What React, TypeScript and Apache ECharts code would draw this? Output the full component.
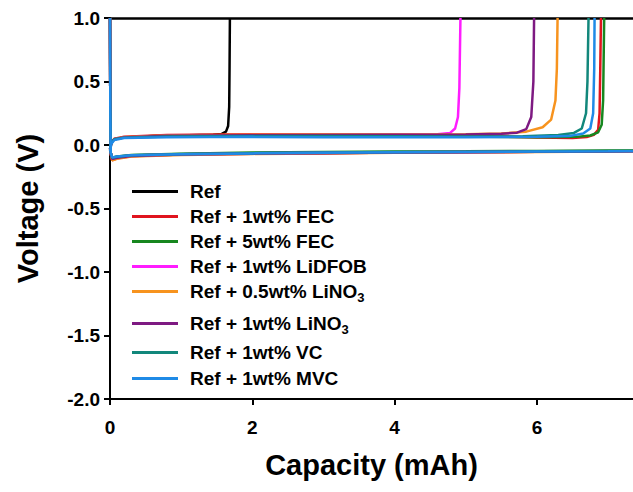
import React, { useEffect, useRef } from "react";
import * as echarts from "echarts";

const seriesNames = [
  "Ref",
  "Ref + 1wt% FEC",
  "Ref + 5wt% FEC",
  "Ref + 1wt% LiDFOB",
  "Ref + 0.5wt% LiNO3",
  "Ref + 1wt% LiNO3",
  "Ref + 1wt% VC",
  "Ref + 1wt% MVC",
];
const seriesColors = ["#000000", "#e0141e", "#17871f", "#ff1cff", "#f7931e", "#7e1a82", "#12877b", "#1f8ae6"];

const yTicks = [-2.0, -1.5, -1.0, -0.5, 0.0, 0.5, 1.0];
const xTicks = [0, 2, 4, 6];

// charge (stripping) curves: [capacity mAh, voltage V]
const chargeRef = [[0, -0.03], [0.02, 0.02], [0.06, 0.045], [0.2, 0.06], [0.6, 0.07], [1.1, 0.076], [1.45, 0.08], [1.57, 0.087], [1.63, 0.105], [1.66, 0.15], [1.675, 0.3], [1.68, 0.6], [1.685, 1.0]];
const chargeFEC1 = [[0, -0.04], [0.02, 0.02], [0.06, 0.05], [0.2, 0.065], [0.8, 0.078], [2, 0.085], [3, 0.085], [4, 0.08], [5, 0.072], [6, 0.06], [6.5, 0.055], [6.7, 0.062], [6.8, 0.08], [6.86, 0.12], [6.88, 0.25], [6.89, 0.6], [6.9, 1.0]];
const chargeFEC5 = [[0, -0.03], [0.02, 0.02], [0.06, 0.045], [0.2, 0.06], [0.8, 0.07], [2, 0.075], [3, 0.075], [4, 0.072], [5, 0.066], [6, 0.062], [6.55, 0.064], [6.75, 0.075], [6.86, 0.1], [6.91, 0.16], [6.93, 0.35], [6.945, 1.0]];
const chargeLiDFOB = [[0, -0.03], [0.02, 0.02], [0.06, 0.045], [0.2, 0.06], [0.8, 0.072], [2, 0.078], [3, 0.08], [4, 0.082], [4.6, 0.085], [4.78, 0.095], [4.85, 0.13], [4.89, 0.22], [4.91, 0.45], [4.925, 1.0]];
const chargeLiNO305 = [[0, -0.04], [0.02, 0.02], [0.06, 0.045], [0.2, 0.062], [0.8, 0.074], [2, 0.08], [3, 0.082], [4, 0.082], [5, 0.085], [5.5, 0.09], [5.85, 0.105], [6.08, 0.14], [6.2, 0.2], [6.26, 0.35], [6.28, 0.6], [6.29, 1.0]];
const chargeLiNO31 = [[0, -0.03], [0.02, 0.02], [0.06, 0.045], [0.2, 0.06], [0.8, 0.072], [2, 0.076], [3, 0.078], [4, 0.08], [5, 0.082], [5.5, 0.088], [5.72, 0.097], [5.85, 0.125], [5.92, 0.22], [5.95, 0.5], [5.96, 1.0]];
const chargeVC = [[0, -0.03], [0.02, 0.02], [0.06, 0.045], [0.2, 0.058], [0.8, 0.066], [2, 0.07], [3, 0.07], [4, 0.068], [5, 0.066], [5.8, 0.068], [6.3, 0.078], [6.52, 0.095], [6.63, 0.13], [6.69, 0.25], [6.71, 0.5], [6.725, 1.0]];
const chargeMVC = [[0, -0.05], [0.02, 0.01], [0.06, 0.04], [0.2, 0.055], [0.8, 0.062], [2, 0.064], [3, 0.062], [4, 0.062], [5, 0.062], [6, 0.064], [6.45, 0.07], [6.65, 0.09], [6.75, 0.13], [6.79, 0.25], [6.805, 0.6], [6.81, 1.0]];

// discharge (plating) curves
const dischargeRef = [[0, 1.0], [0.004, 0.3], [0.01, -0.06], [0.03, -0.1], [0.1, -0.095], [0.3, -0.082], [1, -0.072], [2, -0.066], [3, -0.062], [4, -0.058], [5, -0.055], [6, -0.052], [7, -0.05], [7.6, -0.048]];
const dischargeFEC1 = [[0, 1.0], [0.004, 0.3], [0.01, -0.07], [0.03, -0.12], [0.1, -0.105], [0.3, -0.088], [1, -0.075], [2, -0.068], [3, -0.064], [4, -0.06], [5, -0.056], [6, -0.053], [7, -0.05], [7.6, -0.048]];
const dischargeFEC5 = [[0, 1.0], [0.004, 0.3], [0.01, -0.06], [0.03, -0.1], [0.1, -0.09], [0.3, -0.078], [1, -0.068], [2, -0.06], [3, -0.055], [4, -0.052], [5, -0.05], [6, -0.047], [7, -0.044], [7.6, -0.042]];
const dischargeLiDFOB = [[0, 1.0], [0.004, 0.3], [0.01, -0.06], [0.03, -0.1], [0.1, -0.095], [0.3, -0.082], [1, -0.072], [2, -0.066], [3, -0.062], [4, -0.058], [5, -0.055], [6, -0.052], [7, -0.05], [7.6, -0.048]];
const dischargeLiNO305 = [[0, 1.0], [0.004, 0.3], [0.01, -0.07], [0.03, -0.12], [0.1, -0.108], [0.3, -0.09], [1, -0.078], [2, -0.07], [3, -0.066], [4, -0.062], [5, -0.058], [6, -0.055], [7, -0.052], [7.6, -0.05]];
const dischargeLiNO31 = [[0, 1.0], [0.004, 0.3], [0.01, -0.07], [0.03, -0.11], [0.1, -0.1], [0.3, -0.086], [1, -0.075], [2, -0.068], [3, -0.064], [4, -0.06], [5, -0.057], [6, -0.054], [7, -0.051], [7.6, -0.049]];
const dischargeVC = [[0, 1.0], [0.004, 0.3], [0.01, -0.06], [0.03, -0.1], [0.1, -0.092], [0.3, -0.08], [1, -0.07], [2, -0.064], [3, -0.06], [4, -0.056], [5, -0.053], [6, -0.05], [7, -0.047], [7.6, -0.045]];
const dischargeMVC = [[0, 1.0], [0.004, 0.3], [0.01, -0.06], [0.03, -0.098], [0.1, -0.09], [0.3, -0.08], [1, -0.072], [2, -0.066], [3, -0.062], [4, -0.058], [5, -0.055], [6, -0.052], [7, -0.05], [7.6, -0.048]];

const chargeCurves = [chargeRef, chargeFEC1, chargeFEC5, chargeLiDFOB, chargeLiNO305, chargeLiNO31, chargeVC, chargeMVC];
const dischargeCurves = [dischargeRef, dischargeFEC1, dischargeFEC5, dischargeLiDFOB, dischargeLiNO305, dischargeLiNO31, dischargeVC, dischargeMVC];

const FONT = "'Liberation Sans', Arial, sans-serif";

export default function App() {
  const ref = useRef<HTMLDivElement>(null);
  useEffect(() => {
    if (!ref.current) return;
    const chart = echarts.init(ref.current, null, { renderer: "svg" });
    const series: any[] = [];
    seriesNames.forEach((name, i) => {
      const common = {
        name,
        type: "line",
        showSymbol: false,
        symbol: "none",
        color: seriesColors[i],
        lineStyle: { color: seriesColors[i], width: 2.5 },
        itemStyle: { color: seriesColors[i] },
        xAxisIndex: 0,
        yAxisIndex: 0,
        silent: true,
      };
      series.push({ ...common, data: dischargeCurves[i] });
      series.push({ ...common, data: chargeCurves[i] });
    });
    const legendBase = {
      orient: "vertical",
      left: 127,
      icon: "rect",
      itemWidth: 46,
      itemHeight: 3,
      formatter: (n: string) => n.replace("LiNO3", "LiNO{sub|3}"),
      textStyle: {
        fontFamily: FONT,
        fontWeight: "bold",
        fontSize: 19,
        color: "#000",
        padding: [0, 0, 0, 7],
        rich: {
          sub: { fontFamily: FONT, fontWeight: "bold", fontSize: 13, color: "#000", verticalAlign: "bottom", lineHeight: 25 },
        },
      },
    };
    const option: any = {
      animation: false,
      grid: { left: 110, right: 0, top: 18, bottom: 93, containLabel: false },
      legend: [
        { ...legendBase, top: 177, itemGap: 6, data: seriesNames.slice(0, 5) },
        { ...legendBase, top: 309, itemGap: 7, data: seriesNames.slice(5) },
      ],
      xAxis: [
        {
          type: "value",
          min: 0,
          max: 7.35,
          interval: 2,
          name: "Capacity (mAh)",
          nameLocation: "middle",
          nameGap: 51,
          nameTextStyle: { fontFamily: FONT, fontWeight: "bold", fontSize: 29, color: "#000" },
          axisLine: { onZero: false, lineStyle: { color: "#000", width: 2 } },
          axisTick: { inside: false, length: 6, lineStyle: { color: "#000", width: 2 } },
          axisLabel: {
            showMaxLabel: false,
            margin: 19,
            fontFamily: FONT,
            fontWeight: "bold",
            fontSize: 19,
            color: "#000",
            formatter: (v: number) => (xTicks.includes(v) ? String(v) : ""),
          },
          splitLine: { show: false },
        },
        {
          type: "value",
          position: "top",
          min: 0,
          max: 7.35,
          axisLine: { show: true, onZero: false, lineStyle: { color: "#000", width: 2.5 } },
          axisTick: { show: false },
          axisLabel: { show: false },
          splitLine: { show: false },
        },
      ],
      yAxis: {
        type: "value",
        min: -2,
        max: 1,
        interval: 0.5,
        name: "Voltage (V)",
        nameLocation: "middle",
        nameGap: 68,
        nameTextStyle: { fontFamily: FONT, fontWeight: "bold", fontSize: 29, color: "#000" },
        axisLine: { show: true, onZero: false, lineStyle: { color: "#000", width: 2 } },
        axisTick: { show: true, inside: false, length: 6, lineStyle: { color: "#000", width: 2 } },
        axisLabel: {
          margin: 10,
          fontFamily: FONT,
          fontWeight: "bold",
          fontSize: 19,
          color: "#000",
          formatter: (v: number) => (yTicks.some((t) => Math.abs(t - v) < 1e-9) ? v.toFixed(1) : ""),
        },
        splitLine: { show: false },
      },
      series,
    };
    chart.setOption(option);
    return () => chart.dispose();
  }, []);
  return (
    <div
      ref={ref}
      style={{ position: "absolute", left: 0, top: 0, width: 633, height: 492, background: "#fff" }}
    />
  );
}
